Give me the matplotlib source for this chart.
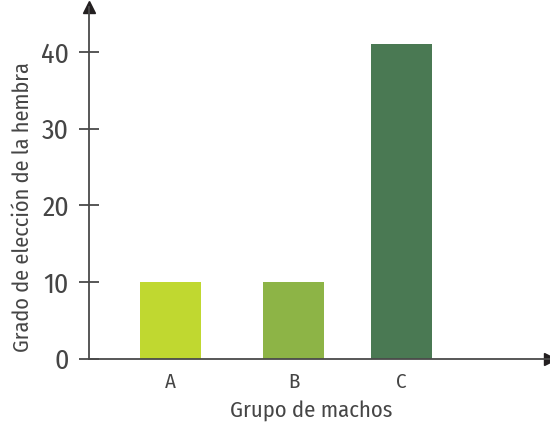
import matplotlib.pyplot as plt
from matplotlib import font_manager

# Data
groups = ['A', 'B', 'C']
values = [10, 10, 41]
colors = ['#c0d830', '#8db446', '#4a7953']

# layout (x positions of the bars, not evenly spaced in the original)
xpos = [81.5, 204.5, 312.5]
bar_w = 61

names = {f.name for f in font_manager.fontManager.ttflist}
fam = 'DejaVu Sans'
for cand in ['Fira Sans Condensed', 'Roboto Condensed', 'Barlow Semi Condensed',
             'PT Sans Narrow', 'Archivo Narrow', 'Liberation Sans Narrow']:
    if cand in names:
        fam = cand
        break
plt.rcParams['font.family'] = [fam, 'DejaVu Sans']

txt = '#454545'
axis_col = '#4a4a4a'

fig = plt.figure(figsize=(5.5, 4.29), dpi=100)
ax = fig.add_axes([89 / 550, 70.3 / 429, 461 / 550, 352 / 429])

ax.bar(xpos, values, width=bar_w, color=colors)

ax.set_xlim(0, 461)
ax.set_ylim(0, 45.9)

for s in ['top', 'right']:
    ax.spines[s].set_visible(False)
for s in ['left', 'bottom']:
    ax.spines[s].set_color(axis_col)
    ax.spines[s].set_linewidth(1.3)

# arrow heads
ax.plot(0, 1, marker='^', color='#231f20', markersize=9, transform=ax.transAxes, clip_on=False)
ax.plot(1, 0, marker='>', color='#231f20', markersize=9, transform=ax.transAxes, clip_on=False)

ax.set_yticks([0, 10, 20, 30, 40])
ax.tick_params(axis='y', direction='inout', length=15, width=1.3, color=axis_col,
               labelsize=20, labelcolor=txt, pad=7)
ax.set_xticks(xpos)
ax.set_xticklabels(groups)
ax.tick_params(axis='x', length=0, labelsize=15, labelcolor=txt, pad=10)

ax.set_ylabel('Grado de elección de la hembra', fontsize=16, color=txt)
ax.yaxis.set_label_coords(-0.121, 0.43)
ax.set_xlabel('Grupo de machos', fontsize=16.3, color=txt)
ax.xaxis.set_label_coords(0.482, -0.12)

fig.savefig('out.png', dpi=100)
